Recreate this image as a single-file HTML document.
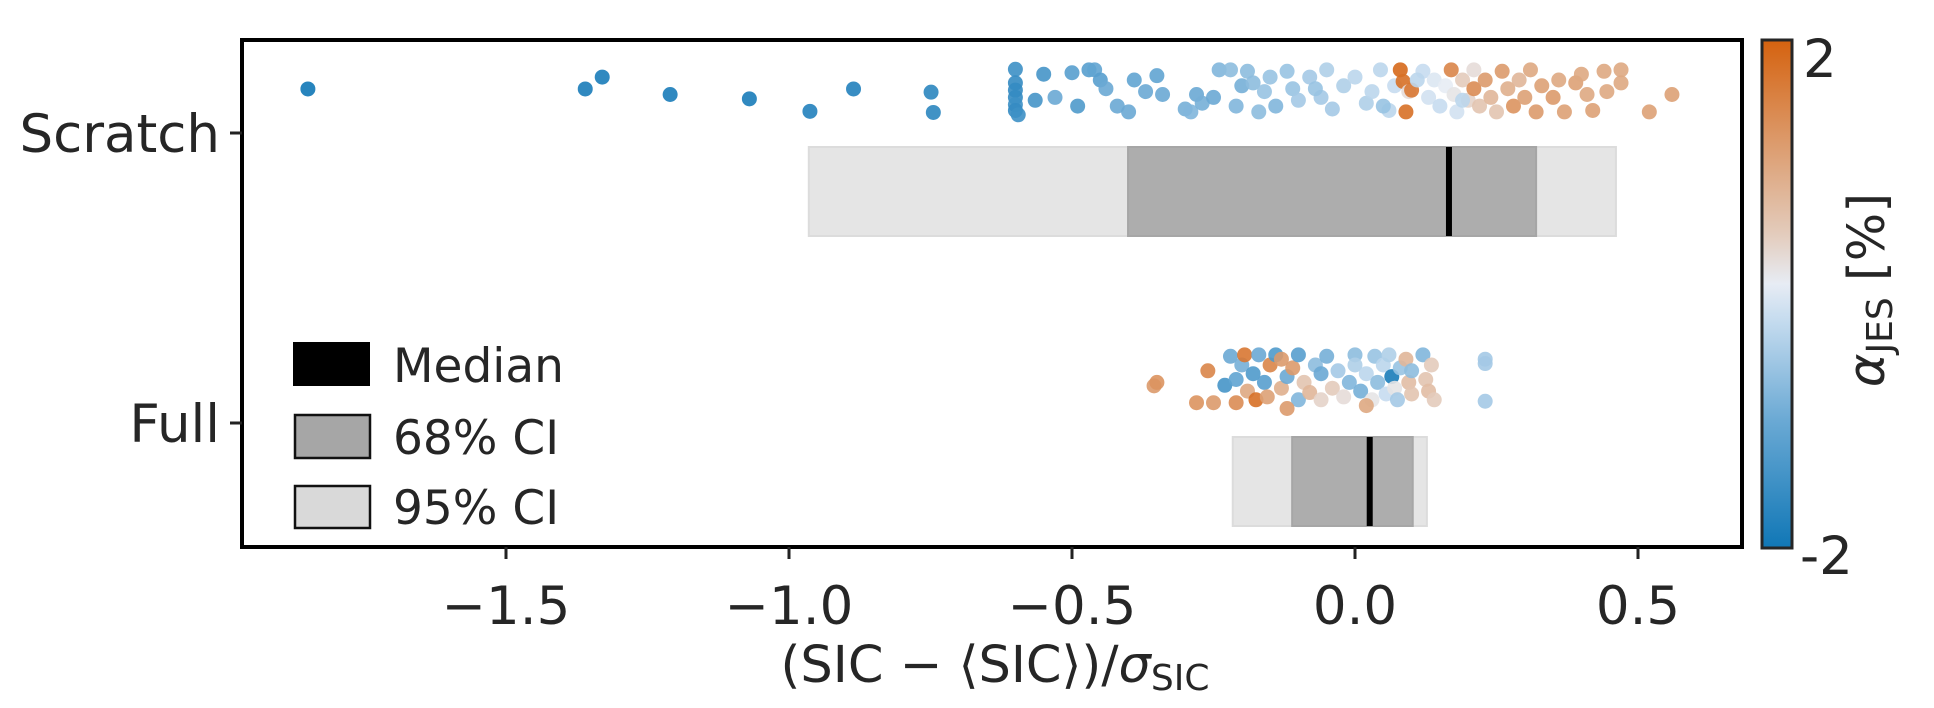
<!DOCTYPE html>
<html><head><meta charset="utf-8"><style>
html,body{margin:0;padding:0;background:#fff;}
svg{display:block;font-family:"DejaVu Sans","Liberation Sans",sans-serif;}
</style></head><body>
<svg id="chart" width="1934" height="708" viewBox="0 0 1934 708" xmlns="http://www.w3.org/2000/svg">
<defs>
<linearGradient id="cbar" x1="0" y1="1" x2="0" y2="0">
<stop offset="0" stop-color="#1077b6"/><stop offset="0.25" stop-color="#6aa9d4"/>
<stop offset="0.45" stop-color="#c6dcef"/><stop offset="0.52" stop-color="#e7ecf4"/>
<stop offset="0.62" stop-color="#e3cbbb"/><stop offset="0.8" stop-color="#dc9a6b"/>
<stop offset="1" stop-color="#d5620f"/></linearGradient>
</defs>
<g id="plot"></g>
</svg>
<script>
const categories = ["Scratch", "Full"];
const xTicks = [-1.5, -1.0, -0.5, 0.0, 0.5];
const xTickLabels = ["\u22121.5", "\u22121.0", "\u22120.5", "0.0", "0.5"];
const ci95Low = [-0.965, -0.216];
const ci95High = [0.461, 0.127];
const ci68Low = [-0.401, -0.111];
const ci68High = [0.320, 0.102];
const medians = [0.166, 0.026];
const scratchX = [-1.85,-1.36,-1.33,-1.21,-1.07,-0.963,-0.886,-0.749,-0.745,-0.60,-0.60,-0.60,-0.60,-0.60,-0.60,-0.595,-0.55,-0.565,-0.53,-0.50,-0.49,-0.47,-0.46,-0.45,-0.44,-0.42,-0.40,-0.39,-0.37,-0.35,-0.34,-0.30,-0.29,-0.28,-0.27,-0.25,-0.24,-0.22,-0.21,-0.20,-0.19,-0.18,-0.17,-0.16,-0.15,-0.14,-0.12,-0.11,-0.10,-0.08,-0.06,-0.05,-0.04,-0.02,0.0,0.02,0.03,0.045,0.06,0.07,0.08,0.085,0.09,0.095,0.10,0.12,0.13,0.14,0.15,0.16,0.17,0.175,0.18,0.19,0.20,0.21,0.21,0.22,0.23,0.24,0.25,0.26,0.27,0.28,0.29,0.30,0.31,0.32,0.33,0.35,0.36,0.37,0.39,0.40,0.41,0.42,0.44,0.445,0.47,0.47,0.52,0.56,0.05,-0.07,0.11,0.19];
const scratchJitter = [-0.169,-0.169,-0.210,-0.150,-0.135,-0.092,-0.169,-0.158,-0.088,-0.237,-0.190,-0.165,-0.140,-0.115,-0.095,-0.080,-0.220,-0.130,-0.140,-0.225,-0.110,-0.235,-0.235,-0.200,-0.170,-0.110,-0.090,-0.200,-0.160,-0.215,-0.150,-0.100,-0.090,-0.150,-0.120,-0.140,-0.235,-0.235,-0.110,-0.180,-0.230,-0.190,-0.090,-0.160,-0.210,-0.110,-0.230,-0.170,-0.130,-0.210,-0.140,-0.235,-0.100,-0.180,-0.210,-0.120,-0.160,-0.235,-0.095,-0.180,-0.235,-0.195,-0.090,-0.160,-0.165,-0.230,-0.140,-0.200,-0.110,-0.180,-0.235,-0.150,-0.090,-0.200,-0.130,-0.235,-0.170,-0.110,-0.200,-0.140,-0.090,-0.230,-0.170,-0.110,-0.200,-0.140,-0.235,-0.090,-0.180,-0.140,-0.200,-0.090,-0.190,-0.220,-0.150,-0.095,-0.230,-0.160,-0.235,-0.190,-0.090,-0.150,-0.110,-0.170,-0.200,-0.130];
const scratchAlpha = [-2,-1.9,-1.9,-1.9,-1.9,-1.8,-1.8,-1.7,-1.7,-1.5,-1.6,-1.6,-1.6,-1.5,-1.6,-1.5,-1.4,-1.4,-1.0,-1.2,-1.3,-1.2,-1.1,-1.2,-1.0,-1.0,-1.0,-1.1,-1.0,-1.1,-1.0,-0.9,-0.8,-1.0,-0.9,-1.0,-0.8,-0.7,-0.8,-0.9,-0.7,-0.7,-0.7,-0.6,-0.6,-0.8,-0.6,-0.6,-0.5,-0.5,-0.5,-0.4,-0.5,-0.4,-0.3,-0.4,-0.3,-0.3,-0.3,-0.2,1.9,1.8,1.8,0.3,1.7,-0.2,-0.1,0.0,-0.2,0.1,1.5,0.2,-0.1,0.5,0.4,0.3,1.4,0.6,1.2,0.8,0.6,1.2,0.9,1.3,0.8,1.1,1.0,1.2,1.1,1.2,1.0,1.1,1.1,1.0,1.0,1.1,1.0,1.0,1.0,1.0,1.1,1.1,-0.6,-0.6,-0.3,-0.3];
const fullX = [-0.355,-0.35,-0.28,-0.26,-0.25,-0.23,-0.22,-0.21,-0.21,-0.20,-0.195,-0.19,-0.18,-0.175,-0.17,-0.16,-0.155,-0.15,-0.14,-0.13,-0.12,-0.11,-0.10,-0.10,-0.09,-0.08,-0.07,-0.06,-0.06,-0.05,-0.04,-0.03,-0.02,-0.01,0.0,0.0,0.01,0.02,0.03,0.035,0.04,0.05,0.055,0.06,0.065,0.07,0.075,0.08,0.09,0.095,0.10,0.10,0.12,0.125,0.13,0.135,0.14,0.23,0.23,0.23,-0.13,-0.12,0.02];
const fullJitter = [-0.128,-0.140,-0.070,-0.180,-0.070,-0.130,-0.230,-0.150,-0.070,-0.200,-0.235,-0.110,-0.170,-0.080,-0.235,-0.140,-0.090,-0.200,-0.235,-0.120,-0.160,-0.190,-0.080,-0.235,-0.140,-0.105,-0.200,-0.080,-0.170,-0.230,-0.120,-0.180,-0.090,-0.140,-0.235,-0.200,-0.110,-0.170,-0.080,-0.230,-0.140,-0.200,-0.100,-0.235,-0.160,-0.120,-0.080,-0.190,-0.220,-0.140,-0.100,-0.180,-0.235,-0.150,-0.110,-0.200,-0.080,-0.220,-0.205,-0.075,-0.220,-0.050,-0.060];
const fullAlpha = [1.2,1.3,1.3,1.5,1.2,-1.4,-1.0,-1.1,1.4,-0.9,1.7,1.0,-1.3,1.8,-1.0,-1.2,1.1,1.5,-1.3,0.9,-1.0,1.2,-0.8,-1.2,0.6,0.8,-0.7,0.4,-1.0,-0.9,0.5,-0.5,0.3,-0.8,-0.7,-0.4,-0.9,-0.3,0.2,-0.6,-0.7,-0.3,-0.2,-0.4,-1.9,0.2,-0.5,-0.6,0.8,0.7,0.6,-0.7,-0.8,0.6,0.7,0.5,0.5,-0.5,-0.5,-0.5,1.2,1.2,1.0];

const NS = "http://www.w3.org/2000/svg";
const g = document.getElementById('plot');
const L = 242, R = 1742, T = 40, B = 547;
const x0px = 1355, unit = 566;
function xs(v){ return x0px + v * unit; }
const catY = [138, 423], catStep = 290;
function ys(ci, j){ return catY[ci] + j * catStep; }
function mk(tag, attrs){ const e = document.createElementNS(NS, tag); for (const k in attrs) e.setAttribute(k, attrs[k]); g.appendChild(e); return e; }
const stops = [[-2,[16,119,182]],[-1,[106,169,212]],[-0.2,[198,220,239]],[0.1,[231,236,244]],[0.5,[227,203,187]],[1.2,[220,154,107]],[2,[213,98,15]]];
function cmap(v){
  v = Math.max(-2, Math.min(2, v));
  for (let i = 0; i < stops.length - 1; i++){
    const a = stops[i], b = stops[i+1];
    if (v <= b[0]){ const t = (v - a[0]) / (b[0] - a[0]);
      const c = a[1].map((q, k) => Math.round(q + (b[1][k] - q) * t));
      return `rgb(${c[0]},${c[1]},${c[2]})`; }
  }
  return 'rgb(213,98,15)';
}
const barTop = [147, 437];
for (let i = 0; i < categories.length; i++){
  const yTop = barTop[i], h = 89;
  let e = mk('rect', {x: xs(ci95Low[i]), y: yTop, width: xs(ci95High[i]) - xs(ci95Low[i]), height: h, fill: '#e5e5e5', stroke: '#dcdcdc', 'stroke-width': 2});
  
  
  e = mk('rect', {x: xs(ci68Low[i]), y: yTop, width: xs(ci68High[i]) - xs(ci68Low[i]), height: h, fill: '#adadad', stroke: '#a6a6a6', 'stroke-width': 2});
  
  
  e = mk('rect', {x: xs(medians[i]) - 3, y: yTop, width: 6, height: h, fill: '#000'});
  
  
}
function points(xsArr, jArr, aArr, ci, name){
  for (let k = 0; k < xsArr.length; k++){
    const c = mk('circle', {cx: xs(xsArr[k]), cy: ys(ci, jArr[k]), r: 7.5, fill: cmap(aArr[k]), 'fill-opacity': 0.9});
    
    
  }
}
points(scratchX, scratchJitter, scratchAlpha, 0, 'scratch-point');
points(fullX, fullJitter, fullAlpha, 1, 'full-point');
let f = mk('rect', {x: L, y: T, width: R - L, height: B - T, fill: 'none', stroke: '#000', 'stroke-width': 4});


for (let i = 0; i < xTicks.length; i++){
  const x = xs(xTicks[i]);
  const t = mk('line', {x1: x, x2: x, y1: B, y2: B + 12, stroke: '#222', 'stroke-width': 3});
  
  
  const lb = mk('text', {x: x, y: 624, 'text-anchor': 'middle', 'font-size': 53, fill: '#262626'});
  lb.textContent = xTickLabels[i];
  
  
}
const yTickPos = [133, 423];
for (let i = 0; i < categories.length; i++){
  const y = yTickPos[i];
  const t = mk('line', {x1: L - 12, x2: L, y1: y, y2: y, stroke: '#222', 'stroke-width': 3});
  
  
  const lb = mk('text', {x: L - 22, y: y + 19, 'text-anchor': 'end', 'font-size': 53, fill: '#262626'});
  lb.textContent = categories[i];
  
  
}
</script>
<svg style="position:absolute;left:0;top:0" width="1934" height="708">
<g font-family="DejaVu Sans, Liberation Sans, sans-serif" fill="#262626">
<g>
<rect x="293" y="342" width="77" height="44" fill="#000"/>
<text x="393" y="382" font-size="47">Median</text>
<rect x="295" y="415" width="75" height="43" fill="#a6a6a6" stroke="#111" stroke-width="2.5"/>
<text x="393" y="454" font-size="47">68% CI</text>
<rect x="295" y="486" width="75" height="42" fill="#d9d9d9" stroke="#111" stroke-width="2.5"/>
<text x="393" y="524" font-size="47">95% CI</text>
</g>
<text x="995" y="682" text-anchor="middle" font-size="51">(SIC − ⟨SIC⟩)/<tspan font-style="italic">σ</tspan><tspan font-size="36" dy="8">SIC</tspan></text>
<rect x="1762" y="40" width="30" height="508" fill="url(#cbar)" stroke="#262626" stroke-width="3"/>
<text x="1803" y="77" font-size="53">2</text>
<text x="1800" y="574" font-size="53">-2</text>
<text transform="translate(1884,290) rotate(-90)" text-anchor="middle" font-size="51"><tspan font-style="italic">α</tspan><tspan font-size="36" dy="8">JES</tspan><tspan dy="-8"> [%]</tspan></text>
</g>
</svg>
</body></html>
